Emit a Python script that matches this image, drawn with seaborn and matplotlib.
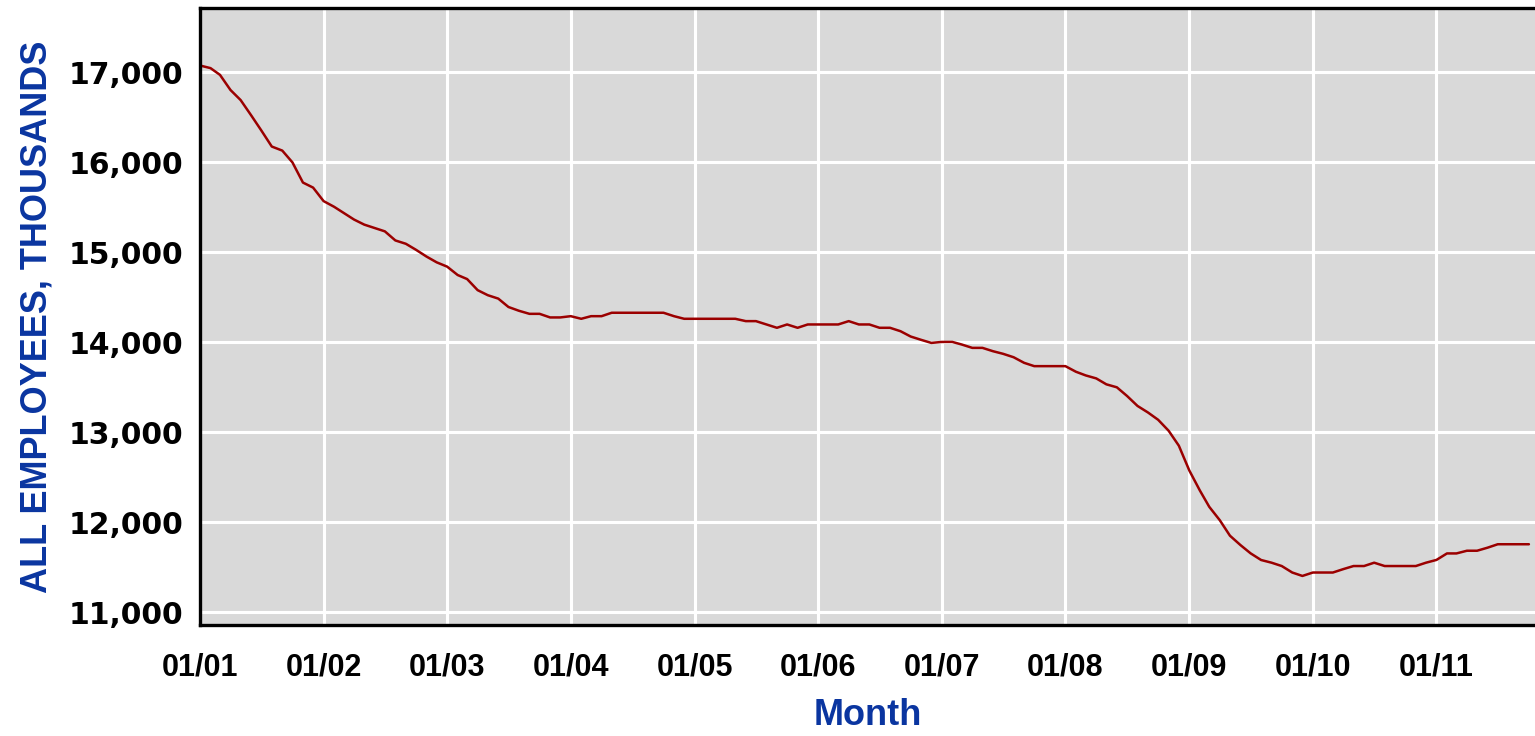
import pandas as pd
import seaborn as sns
import matplotlib.pyplot as plt
import matplotlib.dates as mdates

# monthly values, thousands of employees, Jan 2001 .. Oct 2011
months = pd.date_range("2001-01-01", periods=130, freq="MS")
employees = [
    17074, 17045, 16970, 16802, 16690, 16521, 16353, 16174, 16129, 15998, 15774, 15718,
    15568, 15505, 15437, 15363, 15307, 15269, 15232, 15131, 15094, 15027, 14952, 14888,
    14840, 14747, 14702, 14579, 14523, 14485, 14392, 14350, 14316, 14316, 14276, 14276,
    14290, 14261, 14290, 14290, 14328, 14328, 14328, 14328, 14328, 14328, 14290, 14261,
    14261, 14261, 14261, 14261, 14261, 14235, 14235, 14198, 14161, 14198, 14161, 14198,
    14198, 14198, 14198, 14235, 14198, 14198, 14161, 14161, 14123, 14064, 14027, 13993,
    14004, 14004, 13975, 13938, 13938, 13901, 13872, 13834, 13772, 13735, 13735, 13735,
    13735, 13673, 13632, 13599, 13533, 13500, 13404, 13293, 13220, 13139, 13017, 12852,
    12576, 12355, 12172, 12024, 11852, 11748, 11656, 11582, 11552, 11515, 11443, 11405,
    11443, 11443, 11443, 11481, 11515, 11515, 11552, 11515, 11515, 11515, 11515, 11552,
    11583, 11655, 11655, 11685, 11685, 11719, 11757, 11757, 11757, 11757,
]
y_ticks = [11000, 12000, 13000, 14000, 15000, 16000, 17000]
y_tick_labels = ["11,000", "12,000", "13,000", "14,000", "15,000", "16,000", "17,000"]

df = pd.DataFrame({"Month": months, "Employees": employees})

sns.set_style("darkgrid", {"axes.facecolor": "#d9d9d9", "grid.color": "white"})
plt.rcParams["font.family"] = ["Liberation Sans Narrow", "Liberation Sans", "DejaVu Sans"]

fig = plt.figure(figsize=(15.35, 7.36), dpi=100)
ax = fig.add_axes([0.1303, 0.1508, 0.8697, 0.838])

sns.lineplot(data=df, x="Month", y="Employees", color="#9b0000", linewidth=1.8, ax=ax)

ax.set_xlim(pd.Timestamp("2001-01-01"), pd.Timestamp("2011-10-19"))
ax.set_ylim(10860, 17710)
ax.set_yticks(y_ticks)
ax.set_yticklabels(y_tick_labels, fontsize=21.5, fontweight="bold", family="DejaVu Sans")
ax.xaxis.set_major_locator(mdates.YearLocator())
ax.xaxis.set_major_formatter(mdates.DateFormatter("%m/%y"))
for lab in ax.get_xticklabels():
    lab.set_fontsize(22)
    lab.set_fontweight("bold")

ax.grid(True, color="white", linewidth=2.2)
ax.tick_params(axis="y", direction="out", length=10, width=1.6, pad=2, colors="black")
ax.tick_params(axis="x", direction="out", length=13, width=2.2, pad=7, colors="black")
for side in ["left", "bottom", "top"]:
    ax.spines[side].set_visible(True)
    ax.spines[side].set_color("black")
    ax.spines[side].set_linewidth(2.4)
ax.spines["right"].set_visible(False)

ax.set_xlabel("Month", fontsize=26, fontweight="bold", color="#0a35a0", labelpad=11)
ax.set_ylabel("ALL EMPLOYEES, THOUSANDS", fontsize=26, fontweight="bold", color="#0a35a0", labelpad=10)

plt.savefig("out.png", dpi=100)
